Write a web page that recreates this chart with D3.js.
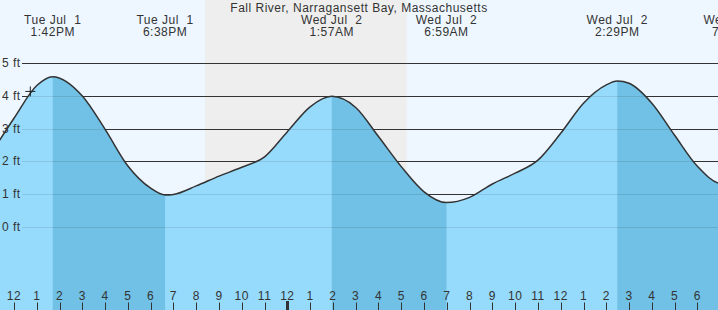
<!DOCTYPE html>
<html><head><meta charset="utf-8">
<script src="https://cdn.jsdelivr.net/npm/d3@7"></script>
<style>body{margin:0;overflow:hidden;background:#eef7ff}svg{display:block}text{font-family:"Liberation Sans",Arial,sans-serif;letter-spacing:0.5px}</style>
</head><body>
<svg id="c" width="718" height="310"></svg>
<script>
const title = "Fall River, Narragansett Bay, Massachusetts";
const tideTimes = ["2025-07-01T11:00","2025-07-01T12:00","2025-07-01T13:00","2025-07-01T13:42","2025-07-01T15:00","2025-07-01T16:00","2025-07-01T17:00","2025-07-01T18:00","2025-07-01T18:38","2025-07-01T19:00","2025-07-01T20:00","2025-07-01T21:00","2025-07-01T22:00","2025-07-01T23:00","2025-07-02T00:00","2025-07-02T01:00","2025-07-02T01:57","2025-07-02T03:00","2025-07-02T04:00","2025-07-02T05:00","2025-07-02T06:00","2025-07-02T06:59","2025-07-02T08:00","2025-07-02T09:00","2025-07-02T10:00","2025-07-02T11:00","2025-07-02T12:00","2025-07-02T13:00","2025-07-02T14:00","2025-07-02T14:29","2025-07-02T15:00","2025-07-02T16:00","2025-07-02T17:00","2025-07-02T18:00","2025-07-02T19:00","2025-07-02T19:37","2025-07-02T20:00"];
const tideHeights = [2.25,3.32,4.32,4.59,4.0,2.98,1.86,1.18,0.97,0.99,1.25,1.55,1.82,2.14,2.91,3.67,3.99,3.65,2.76,1.84,1.07,0.74,0.90,1.31,1.64,2.04,2.86,3.78,4.34,4.46,4.39,3.78,2.8,1.85,1.32,1.28,1.3];
const extremeTimes = ["2025-07-01T13:42","2025-07-01T18:38","2025-07-02T01:57","2025-07-02T06:59","2025-07-02T14:29","2025-07-02T19:37"];
const extremeDays = ["Tue Jul  1","Tue Jul  1","Wed Jul  2","Wed Jul  2","Wed Jul  2","Wed Jul  2"];
const extremeClock = ["1:42PM","6:38PM","1:57AM","6:59AM","2:29PM","7:37PM"];
const extremeType = ["H","L","H","L","H","L"];
const yTicks = [0,1,2,3,4,5];
const yTickLabels = ["0 ft","1 ft","2 ft","3 ft","4 ft","5 ft"];
const sunset = "2025-07-01T20:23", sunrise = "2025-07-02T05:14";
const nowTime = "2025-07-01T12:43", nowHeight = 4.14;

const W = 718, H = 310, FS = 12;
const parse = d3.timeParse("%Y-%m-%dT%H:%M");
const data = tideTimes.map((t,i)=>({t:parse(t), h:tideHeights[i]}));
const x = d3.scaleTime().domain([parse("2025-07-01T12:00"), parse("2025-07-02T18:00")]).range([14, 14+30*22.78]);
const y = d3.scaleLinear().domain([0,5]).range([226.8, 63.3]);
const svg = d3.select("#c");
const keepSpaces = s => s.replace(/  /g, " \u00a0");

svg.append("rect").attr("width",W).attr("height",H).attr("fill","#eef7ff");
svg.append("rect").attr("x",x(parse(sunset))).attr("y",0).attr("width",x(parse(sunrise))-x(parse(sunset))).attr("height",H).attr("fill","#eeeeee");

svg.append("g").selectAll("line").data(yTicks).join("line")
  .attr("x1",22).attr("x2",W).attr("y1",d=>Math.round(y(d))+0.5).attr("y2",d=>Math.round(y(d))+0.5)
  .attr("stroke","#333").attr("stroke-width",1);

const area = d3.area().x(d=>x(d.t)).y0(H).y1(d=>y(d.h)).curve(d3.curveMonotoneX);
const line = d3.line().x(d=>x(d.t)).y(d=>y(d.h)).curve(d3.curveMonotoneX);

svg.append("clipPath").attr("id","ac").append("path").attr("d",area(data));
svg.append("path").attr("d",area(data)).attr("fill","#96dbfc");
const bands = svg.append("g").attr("clip-path","url(#ac)");
for(let i=0;i<extremeTimes.length-1;i++){
  if(extremeType[i]==="H"){
    const a=x(parse(extremeTimes[i])), b=x(parse(extremeTimes[i+1]));
    bands.append("rect").attr("x",a).attr("y",0).attr("width",b-a).attr("height",H).attr("fill","#70c1e5");
  }
}
bands.append("g").selectAll("line").data(yTicks).join("line")
  .attr("x1",22).attr("x2",W).attr("y1",d=>Math.round(y(d))+0.5).attr("y2",d=>Math.round(y(d))+0.5)
  .attr("stroke","#000").attr("stroke-opacity",0.1);

svg.append("path").attr("d",line(data)).attr("fill","none").attr("stroke","#333").attr("stroke-width",1.5);

svg.append("g").selectAll("text").data(yTicks).join("text")
  .attr("x",2).attr("y",d=>y(d)+4).attr("font-size",FS).attr("fill","#333").text((d,i)=>yTickLabels[i]);

svg.append("text").attr("x",W/2).attr("y",12).attr("text-anchor","middle").attr("font-size",FS).attr("fill","#333").text(title);
const lab = svg.append("g").attr("font-size",FS).attr("fill","#333").attr("text-anchor","middle");
extremeTimes.forEach((t,i)=>{
  const px = x(parse(t));
  lab.append("text").attr("x",px).attr("y",23.5).text(keepSpaces(extremeDays[i]));
  lab.append("text").attr("x",px).attr("y",35.5).text(extremeClock[i]);
});

const hours = d3.timeHour.range(parse("2025-07-01T12:00"), parse("2025-07-02T18:01"));
const ax = svg.append("g");
ax.selectAll("text").data(hours).join("text")
  .attr("x",d=>x(d)).attr("y",300).attr("text-anchor","middle").attr("font-size",FS).attr("fill","#333")
  .text(d=>d3.timeFormat("%-I")(d));
ax.selectAll("line").data(hours).join("line")
  .attr("x1",d=>Math.round(x(d))+0.5).attr("x2",d=>Math.round(x(d))+0.5)
  .attr("y1",d=>d.getHours()===0?301:302.5).attr("y2",H)
  .attr("stroke","#333").attr("stroke-width",d=>d.getHours()===0?3:1);

const nx = x(parse(nowTime)), ny = y(nowHeight);
svg.append("path").attr("d",`M${nx-5},${ny}H${nx+5}M${nx},${ny-5}V${ny+5}`).attr("stroke","#222").attr("stroke-width",1);
</script>
</body></html>
